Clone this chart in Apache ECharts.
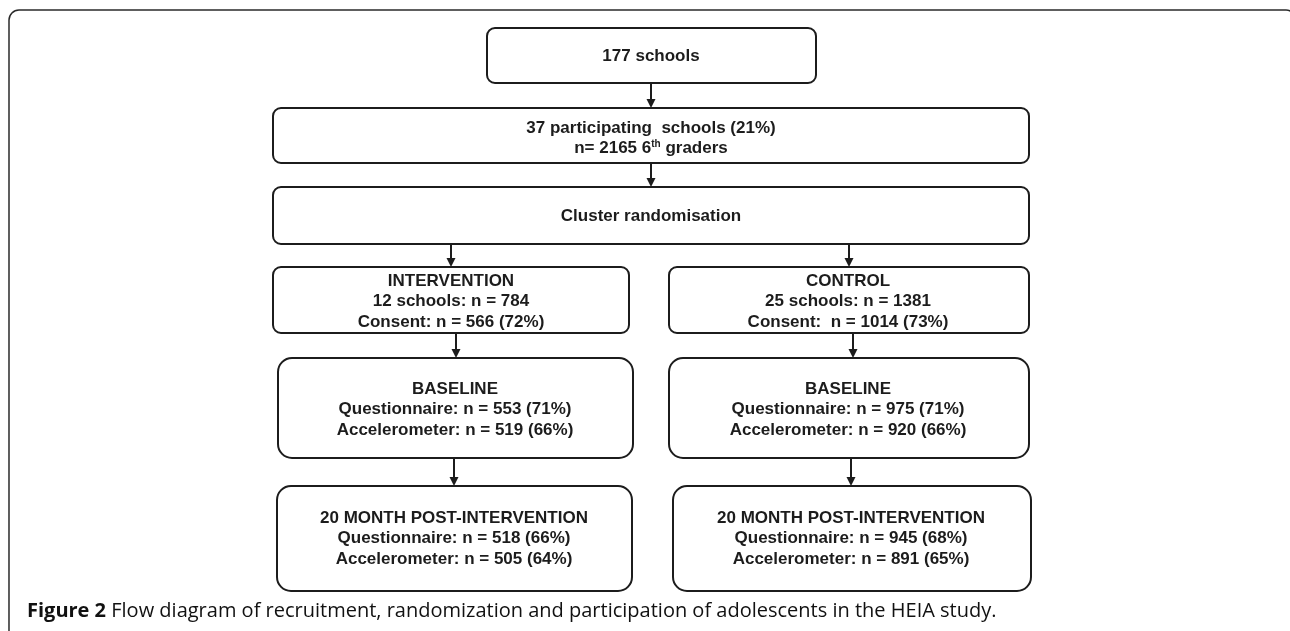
<!DOCTYPE html>
<html>
<head>
<meta charset="utf-8">
<script src="https://cdn.jsdelivr.net/npm/echarts@6/dist/echarts.min.js"></script>
<style>
html,body{margin:0;padding:0;background:#fff;}
#chart{width:1290px;height:631px;}
</style>
</head>
<body>
<div id="chart"></div>
<script>
// ---- content (texts) ----
const topText = ['177 schools'];
const participatingText = ['37 participating  schools (21%)', 'n= 2165 6{sup|th} graders'];
const randomText = ['Cluster randomisation'];
const interventionText = ['INTERVENTION', '12 schools: n = 784', 'Consent: n = 566 (72%)'];
const controlText = ['CONTROL', '25 schools: n = 1381', 'Consent:  n = 1014 (73%)'];
const baselineIntText = ['BASELINE', 'Questionnaire: n = 553 (71%)', 'Accelerometer: n = 519 (66%)'];
const baselineCtlText = ['BASELINE', 'Questionnaire: n = 975 (71%)', 'Accelerometer: n = 920 (66%)'];
const postIntText = ['20 MONTH POST-INTERVENTION', 'Questionnaire: n = 518 (66%)', 'Accelerometer: n = 505 (64%)'];
const postCtlText = ['20 MONTH POST-INTERVENTION', 'Questionnaire: n = 945 (68%)', 'Accelerometer: n = 891 (65%)'];
const captionBold = 'Figure 2';
const captionText = 'Flow diagram of recruitment, randomization and participation of adolescents in the HEIA study.';

// ---- layout (diagram geometry in page units) ----
const boxLayout = [
  {lines: topText,          x0: 487, y0: 28,  x1: 816,  y1: 83,  r: 8,  cx: 651, ty: 56},
  {lines: participatingText,x0: 273, y0: 108, x1: 1029, y1: 163, r: 8,  cx: 651, ty: 128},
  {lines: randomText,       x0: 273, y0: 187, x1: 1029, y1: 244, r: 8,  cx: 651, ty: 216},
  {lines: interventionText, x0: 273, y0: 267, x1: 629,  y1: 333, r: 8,  cx: 451, ty: 281},
  {lines: controlText,      x0: 669, y0: 267, x1: 1029, y1: 333, r: 8,  cx: 848, ty: 281},
  {lines: baselineIntText,  x0: 278, y0: 358, x1: 633,  y1: 458, r: 14, cx: 455, ty: 389},
  {lines: baselineCtlText,  x0: 669, y0: 358, x1: 1029, y1: 458, r: 14, cx: 848, ty: 389},
  {lines: postIntText,      x0: 277, y0: 486, x1: 632,  y1: 591, r: 14, cx: 454, ty: 518},
  {lines: postCtlText,      x0: 673, y0: 486, x1: 1031, y1: 591, r: 14, cx: 851, ty: 518}
];
const arrowLayout = [
  {x: 651, y0: 83,  y1: 108},
  {x: 651, y0: 163, y1: 187},
  {x: 451, y0: 244, y1: 267},
  {x: 849, y0: 244, y1: 267},
  {x: 456, y0: 333, y1: 358},
  {x: 853, y0: 333, y1: 358},
  {x: 454, y0: 458, y1: 486},
  {x: 851, y0: 458, y1: 486}
];
const frameLayout = {x0: 9, y0: 10, x1: 1296, y1: 660, r: 10};
const captionLayout = {x: 27, y: 611};
const LINE_H = 20.5;
const INK = '#1c1c1c';
const FONT = '"Liberation Sans", Arial, Helvetica, sans-serif';
const CAP_FONT = '"Open Sans", "Noto Sans", sans-serif';

const chart = echarts.init(document.getElementById('chart'), null, {renderer: 'canvas'});

function boxRender(params, api) {
  const b = boxLayout[params.dataIndex];
  const p0 = api.coord([b.x0, b.y0]);
  const p1 = api.coord([b.x1, b.y1]);
  const children = [{
    type: 'rect',
    shape: {x: p0[0], y: p0[1], width: p1[0] - p0[0], height: p1[1] - p0[1], r: b.r},
    style: {fill: '#fff', stroke: INK, lineWidth: 2}
  }];
  b.lines.forEach(function (ln, i) {
    const c = api.coord([b.cx, b.ty + i * LINE_H]);
    children.push({
      type: 'text',
      x: c[0], y: c[1],
      style: {
        text: ln,
        fill: INK,
        font: 'bold 17px ' + FONT,
        align: 'center',
        verticalAlign: 'middle',
        rich: {
          sup: {fontSize: 10, fontWeight: 'bold', fontFamily: FONT, fill: INK, verticalAlign: 'top', padding: [0, 0, 9, 0]}
        }
      }
    });
  });
  return {type: 'group', children: children};
}

function arrowRender(params, api) {
  const a = arrowLayout[params.dataIndex];
  const p0 = api.coord([a.x, a.y0]);
  const p1 = api.coord([a.x, a.y1]);
  const head = 9, hw = 4.5;
  return {
    type: 'group',
    children: [
      {type: 'line', shape: {x1: p0[0], y1: p0[1], x2: p1[0], y2: p1[1] - head + 1},
       style: {stroke: INK, lineWidth: 2}},
      {type: 'polygon', shape: {points: [[p1[0] - hw, p1[1] - head], [p1[0] + hw, p1[1] - head], [p1[0], p1[1]]]},
       style: {fill: INK}}
    ]
  };
}

function frameRender(params, api) {
  const p0 = api.coord([frameLayout.x0, frameLayout.y0]);
  const p1 = api.coord([frameLayout.x1, frameLayout.y1]);
  return {
    type: 'rect',
    shape: {x: p0[0], y: p0[1], width: p1[0] - p0[0], height: p1[1] - p0[1], r: frameLayout.r},
    style: {fill: 'none', stroke: '#2a2a2a', lineWidth: 1.5}
  };
}

function captionRender(params, api) {
  const c = api.coord([captionLayout.x, captionLayout.y]);
  return {
    type: 'text',
    x: c[0], y: c[1],
    style: {
      text: '{b|' + captionBold + '} ' + captionText,
      font: '20px ' + CAP_FONT,
      fill: '#111',
      align: 'left',
      verticalAlign: 'middle',
      rich: {b: {fontWeight: 'bold', fontSize: 20, fontFamily: CAP_FONT, fill: '#111'}}
    }
  };
}

chart.setOption({
  animation: false,
  backgroundColor: '#fff',
  grid: {left: 0, right: 0, top: 0, bottom: 0},
  xAxis: {type: 'value', min: 0, max: 1290, show: false},
  yAxis: {type: 'value', min: 0, max: 631, inverse: true, show: false},
  series: [
    {type: 'custom', renderItem: frameRender, data: [[0, 0]], clip: true, silent: true},
    {type: 'custom', renderItem: arrowRender, data: arrowLayout.map(function (a, i) { return [i, 0]; }), silent: true},
    {type: 'custom', renderItem: boxRender, data: boxLayout.map(function (b, i) { return [i, 0]; }), silent: true},
    {type: 'custom', renderItem: captionRender, data: [[0, 0]], silent: true}
  ]
});
</script>
</body>
</html>
